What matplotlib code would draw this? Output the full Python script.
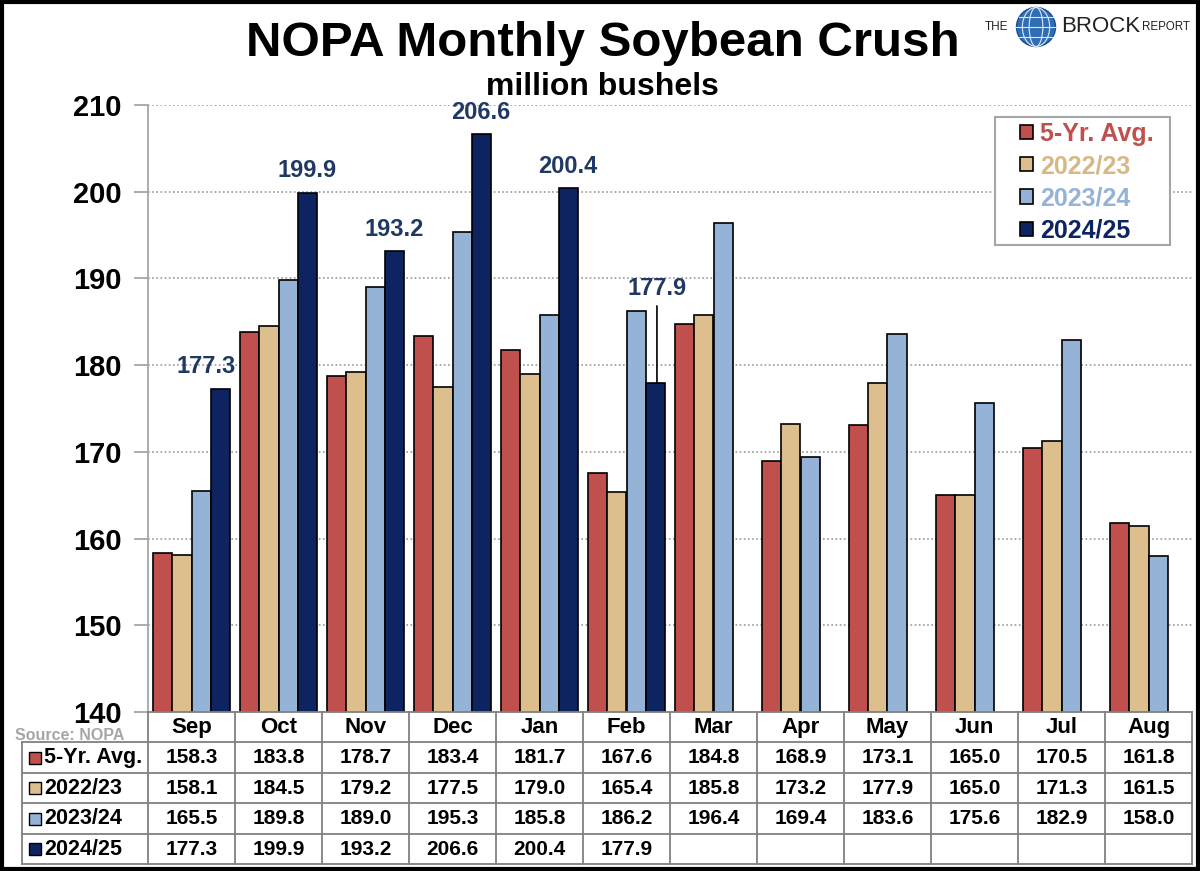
import matplotlib
matplotlib.use("Agg")
import matplotlib.pyplot as plt
import matplotlib.transforms as mtransforms
from matplotlib.patches import Patch, Rectangle, Circle, Ellipse
import numpy as np

plt.rcParams['font.family'] = ['Liberation Sans', 'DejaVu Sans']

months = ["Sep", "Oct", "Nov", "Dec", "Jan", "Feb", "Mar", "Apr", "May", "Jun", "Jul", "Aug"]
series_names = ["5-Yr. Avg.", "2022/23", "2023/24", "2024/25"]
avg5 = [158.3, 183.8, 178.7, 183.4, 181.7, 167.6, 184.8, 168.9, 173.1, 165.0, 170.5, 161.8]
y2223 = [158.1, 184.5, 179.2, 177.5, 179.0, 165.4, 185.8, 173.2, 177.9, 165.0, 171.3, 161.5]
y2324 = [165.5, 189.8, 189.0, 195.3, 185.8, 186.2, 196.4, 169.4, 183.6, 175.6, 182.9, 158.0]
y2425 = [177.3, 199.9, 193.2, 206.6, 200.4, 177.9]
yticks = [140, 150, 160, 170, 180, 190, 200, 210]

colors = ["#C0504D", "#DDBF8E", "#95B3D7", "#0E2461"]
label_colors = ["#C0504D", "#D6B887", "#95B3D7", "#0E2461"]
annot_color = "#1F3864"

W, H = 1200, 871
fig = plt.figure(figsize=(W / 100, H / 100), dpi=100)

def fx(x):
    return x / W

def fy(y):
    return 1 - y / H

ax_l, ax_r, ax_t, ax_b = 148, 1192, 105, 712
ax = fig.add_axes([fx(ax_l), fy(ax_b), fx(ax_r) - fx(ax_l), fy(ax_t) - fy(ax_b)])

all_series = [avg5, y2223, y2324, y2425]
bw = 0.22
x = np.arange(len(months))
for k, vals in enumerate(all_series):
    xs = x[:len(vals)] + (k - 1.5) * bw
    ax.bar(xs, vals, width=bw, color=colors[k], edgecolor="black", linewidth=1.2, zorder=3)

ax.set_xlim(-0.5, len(months) - 0.5)
ax.set_ylim(140, 210)
ax.set_yticks(yticks)
ax.set_yticklabels([str(t) for t in yticks], fontsize=21, fontweight="bold")
ax.set_xticks([])
for t in yticks[1:]:
    ax.axhline(t, color="#9A9A9A", linestyle=(0, (1, 1.5)), linewidth=1.2, zorder=1)
for s in ["top", "right", "bottom"]:
    ax.spines[s].set_visible(False)
ax.spines["left"].set_color("#A6A6A6")
ax.spines["left"].set_linewidth(1.3)
ax.tick_params(axis="y", length=10, width=1.3, color="#A6A6A6", pad=9)

# annotations on 2024/25
for i, v in enumerate(y2425):
    xc = x[i] + 1.5 * bw
    if months[i] == "Feb":
        ty = y2324[i] + 2.6
        ax.annotate(f"{v:.1f}", xy=(xc + 0.02, v), xytext=(xc + 0.02, ty),
                    ha="center", va="center", fontsize=17, fontweight="bold", color=annot_color,
                    arrowprops=dict(arrowstyle="-", color="black", lw=1.2, shrinkA=2, shrinkB=0),
                    zorder=5)
    else:
        off = -0.16 if i == 0 else 0.0
        ax.text(xc + off, v + 2.5, f"{v:.1f}", ha="center", va="center", fontsize=17,
                fontweight="bold", color=annot_color, zorder=5)

# legend (frame drawn separately to match the reference box)
handles = [Patch(facecolor=colors[k], edgecolor="black", linewidth=1.2) for k in range(4)]
leg = ax.legend(handles, series_names, loc="upper left",
                bbox_to_anchor=((1020 - ax_l) / (ax_r - ax_l), (ax_b - 122) / (ax_b - ax_t)),
                borderaxespad=0, borderpad=0, prop=dict(weight="bold", size=18),
                labelcolor=label_colors, handlelength=0.5, handleheight=0.5,
                handletextpad=0.3, labelspacing=0.33, frameon=False)
leg.set_zorder(6)
ax.add_patch(Rectangle((fx(995), fy(245)), fx(1170) - fx(995), fy(117) - fy(245),
                       transform=fig.transFigure, facecolor="white", edgecolor="#A6A6A6",
                       lw=1.5, zorder=5))

# table drawn in figure coordinates, columns aligned with the axes' data x positions
blend = mtransforms.blended_transform_factory(ax.transData, fig.transFigure)
line_c = "#808080"
row_lines = [712, 742, 773, 803, 834, 864]
left_x = 22
fig.add_artist(plt.Line2D([fx(ax_l), fx(ax_r)], [fy(712)] * 2, color=line_c, lw=1.3))
for yl in row_lines[1:]:
    fig.add_artist(plt.Line2D([fx(left_x), fx(ax_r)], [fy(yl)] * 2, color=line_c, lw=1.3))
for k in range(len(months) + 1):
    xl = k - 0.5
    fig.add_artist(plt.Line2D([xl, xl], [fy(712), fy(864)], color=line_c, lw=1.3, transform=blend))
fig.add_artist(plt.Line2D([fx(left_x)] * 2, [fy(742), fy(864)], color=line_c, lw=1.3))

for i, m in enumerate(months):
    fig.text(x[i], fy(727), m, transform=blend, ha="center", va="center",
             fontsize=16, fontweight="bold")
row_centers = [757.5, 788, 818.5, 849]
for r, vals in enumerate(all_series):
    for i, v in enumerate(vals):
        fig.text(x[i], fy(row_centers[r]), f"{v:.1f}", transform=blend, ha="center",
                 va="center", fontsize=15, fontweight="bold")
    fig.add_artist(Rectangle((fx(29), fy(row_centers[r] + 6)), fx(12), 12 / H,
                             facecolor=colors[r], edgecolor="black", lw=1.0))
    fig.text(fx(44), fy(row_centers[r]), series_names[r], ha="left", va="center",
             fontsize=15.5, fontweight="bold")

fig.text(fx(15), fy(735), "Source: NOPA", ha="left", va="center", fontsize=11.5,
         fontweight="bold", color="#A6A6A6")

# titles
fig.text(fx(603), fy(44), "NOPA Monthly Soybean Crush", ha="center", va="center",
         fontsize=35.5, fontweight="bold")
fig.text(fx(602), fy(87), "million bushels", ha="center", va="center",
         fontsize=23, fontweight="bold")

# logo
fig.text(fx(985), fy(27), "THE", ha="left", va="center", fontsize=8.5, color="#222222")
gx, gy, gr = 1036 / 100, (H - 27) / 100, 0.195
globe = Circle((gx, gy), gr, transform=fig.dpi_scale_trans,
               facecolor="#2F6DB5", edgecolor="#1B4F8F", lw=1)
fig.add_artist(globe)
for w in [0.35, 0.7]:
    fig.add_artist(Ellipse((gx, gy), 2 * gr * w, 2 * gr, transform=fig.dpi_scale_trans,
                           fill=False, edgecolor="#DDE8F5", lw=0.8))
for dy in [-0.1, 0.0, 0.1]:
    half = np.sqrt(gr ** 2 - dy ** 2)
    fig.add_artist(plt.Line2D([gx - half, gx + half], [gy + dy, gy + dy],
                              transform=fig.dpi_scale_trans, color="#DDE8F5", lw=0.8))
fig.text(fx(1061), fy(26), "BROCK", ha="left", va="center", fontsize=16, color="#222222")
fig.text(fx(1142), fy(27), "REPORT", ha="left", va="center", fontsize=8.3, color="#222222")

fig.add_artist(Rectangle((0.0015, 0.002), 0.997, 0.996, transform=fig.transFigure,
                         fill=False, edgecolor="black", lw=3))

fig.savefig("out.png", dpi=100)
